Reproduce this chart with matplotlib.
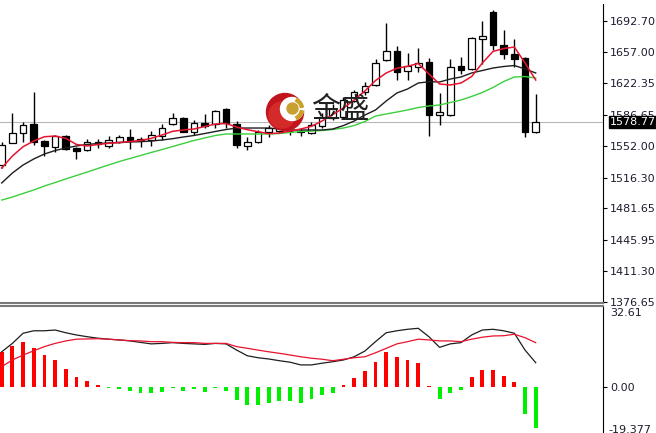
import numpy as np
import pandas as pd
import matplotlib
matplotlib.use("Agg")
import matplotlib.pyplot as plt
from matplotlib.patches import Circle, Wedge

# Candles (oldest -> newest)
opens = [1530.4, 1555.5, 1566.7, 1576.5, 1557.4, 1551.0, 1563.4, 1549.2, 1547.3, 1556.6,
         1552.1, 1556.8, 1561.9, 1559.3, 1558.5, 1563.4, 1576.2, 1583.6, 1567.9, 1577.3,
         1576.5, 1593.1, 1576.5, 1552.3, 1556.6, 1567.9, 1568.6, 1569.2, 1569.2, 1566.7,
         1574.3, 1583.3, 1584.7, 1602.7, 1612.8, 1620.4, 1648.5, 1659.0, 1636.1, 1641.0,
         1645.9, 1586.6, 1586.6, 1641.4, 1638.4, 1672.5, 1702.5, 1665.4, 1655.2, 1650.8,
         1567.0]
highs = [1556.3, 1589.2, 1578.8, 1612.8, 1558.5, 1564.1, 1564.1, 1550.6, 1559.3, 1559.3,
         1562.5, 1564.1, 1570.6, 1561.9, 1568.6, 1576.2, 1589.2, 1584.7, 1580.5, 1587.4,
         1592.3, 1594.9, 1580.2, 1561.9, 1569.8, 1575.4, 1576.5, 1572.0, 1572.4, 1578.8,
         1588.9, 1599.0, 1606.5, 1614.8, 1624.1, 1649.3, 1690.5, 1664.2, 1656.0, 1661.7,
         1650.4, 1611.7, 1649.6, 1652.4, 1674.7, 1692.4, 1704.4, 1682.2, 1672.5, 1652.2,
         1610.3]
lows = [1527.0, 1555.2, 1556.3, 1552.9, 1540.5, 1545.0, 1547.3, 1536.8, 1546.2, 1549.2,
        1549.5, 1555.2, 1548.4, 1550.6, 1551.8, 1558.0, 1575.9, 1567.2, 1564.1, 1572.0,
        1571.7, 1571.7, 1549.2, 1547.8, 1554.8, 1562.2, 1566.4, 1564.1, 1563.0, 1565.8,
        1572.0, 1581.0, 1583.3, 1601.3, 1609.1, 1619.3, 1647.4, 1626.0, 1626.0, 1635.3,
        1563.0, 1575.4, 1585.0, 1632.8, 1637.3, 1644.0, 1659.7, 1649.1, 1640.6, 1561.9,
        1566.7]
closes = [1552.9, 1566.7, 1575.4, 1556.6, 1552.1, 1563.0, 1548.4, 1546.5, 1555.9, 1553.7,
          1558.5, 1562.2, 1558.5, 1558.0, 1564.7, 1572.4, 1582.9, 1567.9, 1577.1, 1574.8,
          1590.6, 1578.0, 1552.9, 1556.6, 1567.2, 1572.0, 1573.1, 1568.1, 1567.9, 1575.4,
          1584.4, 1593.4, 1603.5, 1612.2, 1619.6, 1644.8, 1659.0, 1635.3, 1641.8, 1645.5,
          1586.6, 1590.4, 1641.0, 1637.6, 1673.2, 1675.5, 1665.7, 1654.9, 1650.0, 1567.0,
          1578.77]

# Moving averages as drawn on the chart
ma_red = [1527.0, 1540.5, 1551.0, 1557.4, 1562.2, 1563.0, 1560.4, 1553.5, 1551.8, 1553.5,
          1554.8, 1555.7, 1556.8, 1558.0, 1560.4, 1564.1, 1568.3, 1569.8, 1570.9, 1573.7,
          1576.5, 1577.1, 1573.1, 1570.1, 1567.9, 1565.6, 1566.4, 1568.6, 1570.9, 1573.9,
          1579.9, 1587.2, 1594.5, 1603.5, 1613.6, 1625.4, 1633.9, 1639.2, 1641.4, 1644.6,
          1632.8, 1621.5, 1620.4, 1622.6, 1629.9, 1645.1, 1658.1, 1661.4, 1663.1, 1645.1,
          1626.0]
ma_black = [1510.2, 1521.4, 1530.4, 1537.2, 1542.8, 1546.7, 1549.5, 1551.8, 1553.5, 1554.6,
            1555.2, 1555.7, 1556.3, 1556.6, 1557.4, 1558.5, 1560.0, 1561.9, 1563.6, 1565.8,
            1568.1, 1570.3, 1572.0, 1572.0, 1572.0, 1572.0, 1570.9, 1569.8, 1569.8, 1569.8,
            1569.8, 1570.9, 1574.8, 1579.9, 1586.6, 1592.3, 1602.4, 1611.4, 1615.9, 1622.6,
            1624.1, 1623.8, 1627.1, 1629.4, 1633.9, 1636.7, 1639.5, 1641.2, 1642.3, 1638.4,
            1633.9]
ma_green = [1491.0, 1494.4, 1498.4, 1502.3, 1506.8, 1510.7, 1514.7, 1518.6, 1522.5, 1526.5,
            1530.4, 1534.3, 1537.7, 1541.1, 1544.5, 1547.8, 1551.2, 1554.6, 1558.0, 1560.8,
            1563.6, 1565.3, 1565.3, 1565.3, 1565.3, 1565.3, 1565.8, 1567.0, 1568.1, 1568.6,
            1569.2, 1570.3, 1572.0, 1574.8, 1579.3, 1585.5, 1587.8, 1590.0, 1592.3, 1595.1,
            1596.8, 1597.9, 1600.7, 1603.5, 1607.5, 1612.0, 1617.6, 1624.3, 1629.4, 1629.9,
            1628.3]

# MACD panel
macd_dif = [14.1, 17.5, 21.6, 22.6, 22.6, 22.9, 21.8, 20.9, 20.2, 19.6,
            19.2, 18.9, 18.5, 17.9, 17.3, 17.5, 17.8, 17.5, 17.3, 17.1,
            17.5, 17.3, 14.8, 12.5, 11.7, 11.2, 10.5, 9.9, 8.8, 8.8,
            9.5, 10.1, 10.8, 12.1, 14.4, 18.2, 21.8, 22.6, 23.2, 23.6,
            20.2, 15.9, 17.3, 17.8, 20.9, 22.9, 23.2, 22.6, 21.6, 14.8,
            9.7]
macd_dea = [8.1, 10.8, 12.8, 14.5, 16.2, 17.5, 18.5, 19.2, 19.3, 19.4,
            19.2, 18.9, 18.6, 18.5, 18.2, 18.2, 17.9, 17.8, 17.8, 17.5,
            17.5, 17.5, 16.2, 15.5, 14.8, 14.1, 13.5, 12.8, 12.1, 11.5,
            11.1, 10.5, 11.1, 11.7, 12.1, 13.7, 15.5, 17.3, 18.2, 19.2,
            18.9, 18.5, 18.5, 18.2, 19.2, 20.0, 20.5, 20.6, 21.2, 19.8,
            17.8]
macd_hist = [14.1, 16.4, 17.9, 15.5, 12.7, 10.8, 7.0, 3.8, 2.4, 0.8,
             -0.6, -1.1, -1.7, -2.4, -2.7, -2.0, -0.6, -1.6, -1.1, -2.0,
             -0.5, -1.6, -5.4, -7.4, -7.4, -6.7, -5.8, -5.8, -6.5, -5.1,
             -3.4, -2.7, 0.7, 3.6, 6.3, 10.1, 13.9, 11.9, 10.8, 9.7,
             0.3, -5.1, -2.4, -1.3, 3.8, 6.7, 6.7, 4.3, 2.0, -11.0,
             -16.8]

last_price = 1578.77
price_ticks = [1692.70, 1657.00, 1622.35, 1586.65, 1552.00, 1516.30, 1481.65, 1445.95, 1411.30, 1376.65]
macd_top, macd_bottom = 32.61, -19.377

df = pd.DataFrame({"open": opens, "high": highs, "low": lows, "close": closes,
                   "ma_red": ma_red, "ma_black": ma_black, "ma_green": ma_green,
                   "dif": macd_dif, "dea": macd_dea, "hist": macd_hist})
df["x"] = np.arange(len(df))

W, H = 656, 433
fig = plt.figure(figsize=(W / 100, H / 100), dpi=100)
fig.patch.set_facecolor("white")

# price panel: y 4..303 px, macd panel: y 306..433 px
ax1 = fig.add_axes([0, 1 - 303 / H, 603 / W, 299 / H])
ax2 = fig.add_axes([0, 0, 603 / W, 127 / H])

label_color = "#1c1c30"

# ---- price panel ----
ax1.axhline(last_price, color="#b8b8b8", lw=0.8, zorder=1)

up = df["close"] >= df["open"]
ax1.vlines(df["x"], df["low"], df["high"], color="black", lw=1, zorder=2)
body_lo = df[["open", "close"]].min(axis=1)
body_h = (df["close"] - df["open"]).abs().clip(lower=0.7)
ax1.bar(df["x"], body_h, bottom=body_lo, width=0.62,
        color=np.where(up, "white", "black"), edgecolor="black", lw=0.9, zorder=3)

ax1.plot(df["x"], df["ma_green"], color="#3ccf3c", lw=1, zorder=4)
ax1.plot(df["x"], df["ma_black"], color="#1e1e1e", lw=1, zorder=4)
ax1.plot(df["x"], df["ma_red"], color="#e8132d", lw=1.1, zorder=5)

ax1.set_xlim(-0.16, 56.3)
ax1.set_ylim(1375.2, 1711.5)
ax1.set_xticks([])
ax1.yaxis.tick_right()
ax1.set_yticks(price_ticks)
ax1.set_yticklabels(["%.2f" % p for p in price_ticks])
ax1.tick_params(axis="y", length=3, width=0.8, pad=2, labelsize=8, labelcolor=label_color)
for s in ["top", "left"]:
    ax1.spines[s].set_visible(False)
ax1.spines["right"].set_color("black")
ax1.spines["bottom"].set_color("#7a7a7a")
ax1.spines["bottom"].set_linewidth(1.5)

# ---- MACD panel ----
hist = df["hist"]
ax2.bar(df["x"], hist, width=0.36, color=np.where(hist >= 0, "#ff0000", "#00ee00"), zorder=2)
ax2.plot(df["x"], df["dif"], color="#1e1e1e", lw=0.9, zorder=3)
ax2.plot(df["x"], df["dea"], color="#e8132d", lw=0.9, zorder=3)
ax2.set_xlim(-0.16, 56.3)
ax2.set_ylim(-18.71, macd_top)
ax2.set_xticks([])
ax2.yaxis.tick_right()
ax2.set_yticks([0])
ax2.set_yticklabels(["0.00"])
ax2.tick_params(axis="y", length=3, width=0.8, pad=2, labelsize=8, labelcolor=label_color)
for s in ["bottom", "left"]:
    ax2.spines[s].set_visible(False)
ax2.spines["right"].set_color("black")
ax2.spines["top"].set_color("#7a7a7a")
ax2.spines["top"].set_linewidth(1.5)

fig.text(610 / W, 1 - 313 / H, "%.2f" % macd_top, fontsize=8, color=label_color, va="center")
# bottom value sits half below the window edge, as on the terminal
fig.text(608 / W, 1 - 425 / H, "%.3f" % macd_bottom, fontsize=8, color=label_color, va="top")

# ---- watermark logo ----
ov = fig.add_axes([0, 0, 1, 1])
ov.set_xlim(0, W)
ov.set_ylim(H, 0)
ov.axis("off")
ov.patch.set_alpha(0)
ov.add_patch(Circle((285, 112), 18.5, color="#c2141c"))
ov.add_patch(Circle((282, 115), 13, color="#d42a2a"))
ov.add_patch(Circle((292, 109), 11.5, color="white"))
ov.add_patch(Wedge((292, 109), 11.5, 10, 65, width=3, color="#c9a227"))
ov.add_patch(Wedge((292, 109), 11.5, 295, 350, width=3, color="#c9a227"))
ov.add_patch(Circle((292.5, 108.5), 5.5, color="#c8a030"))
ov.text(311, 110, "金盛", fontsize=21, family=["Noto Sans CJK SC", "DejaVu Sans"],
        va="center", ha="left", color="#222222")

# current price box
fig.text(610 / W, 1 - 122 / H, "%.2f" % last_price, fontsize=8, color="white",
         va="center", ha="left",
         bbox=dict(facecolor="black", edgecolor="black", pad=1.0))

fig.savefig("out.png", dpi=100)
